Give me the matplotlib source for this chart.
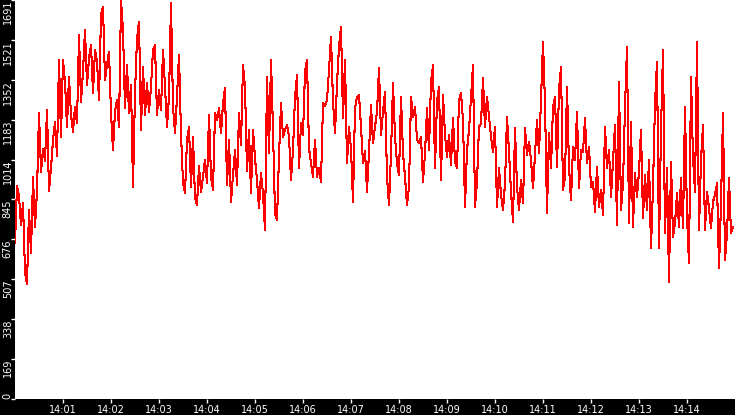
import numpy as np
import pandas as pd
import matplotlib
matplotlib.use("Agg")
import matplotlib.pyplot as plt

# Samples, one every 2.5 s starting at 14:00:00
start_time = "2000-01-01 14:00:00"
end_time = "2000-01-01 14:15:00"
sample_step = "2500ms"

values = [
    660, 903, 860, 737, 830, 538, 487, 801, 620, 941,
    729, 880, 1212, 962, 1060, 1010, 1225, 882, 979, 1098,
    1174, 1030, 1437, 1110, 1437, 1343, 1153, 1365, 1204, 1132,
    1238, 1168, 1543, 1259, 1387, 1564, 1331, 1443, 1500, 1296,
    1479, 1430, 1267, 1627, 1662, 1352, 1415, 1472, 1212, 1055,
    1218, 1267, 1153, 1691, 1560, 1233, 1415, 1212, 1330, 899,
    1296, 1528, 1599, 1140, 1408, 1204, 1338, 1218, 1324, 1479,
    1500, 1204, 1310, 1225, 1479, 1324, 1153, 1281, 1677, 1239,
    1126, 1281, 1458, 1126, 916, 873, 1098, 1153, 900, 1112,
    852, 822, 986, 879, 942, 1013, 914, 1204, 942, 886,
    1211, 1182, 1232, 1126, 1253, 1317, 907, 1098, 836, 949,
    1055, 907, 1211, 1077, 1415, 1324, 964, 1140, 872, 1140,
    1020, 928, 808, 956, 870, 716, 1366, 1041, 1437, 1140,
    787, 759, 1027, 1253, 1112, 1140, 1160, 1112, 928, 1055,
    1281, 1373, 978, 1168, 1119, 1387, 1437, 1062, 999, 942,
    1098, 942, 978, 921, 1253, 1240, 1267, 1394, 1536, 1260,
    1126, 1338, 1493, 1578, 1189, 1437, 999, 1154, 1060, 836,
    1232, 1281, 1288, 1154, 999, 1050, 879, 1048, 1246, 1084,
    1154, 1218, 1401, 1119, 1218, 1303, 942, 822, 1041, 1338,
    1112, 999, 949, 1281, 1041, 942, 822, 900, 1281, 1196,
    1239, 1098, 1084, 1112, 921, 1041, 1232, 1055, 1345, 1415,
    978, 1260, 1324, 928, 1288, 1119, 1027, 1119, 992, 1189,
    1006, 978, 1267, 1295, 1182, 815, 1055, 1140, 1281, 1415,
    815, 921, 1154, 1168, 1359, 1154, 1281, 1196, 1112, 1048,
    1154, 815, 978, 865, 801, 914, 1196, 1048, 879, 752,
    1147, 900, 801, 928, 829, 1147, 1034, 1091, 1013, 893,
    1041, 1182, 1041, 1267, 1514, 1253, 787, 1126, 978, 1239,
    1281, 985, 1310, 1408, 886, 942, 1324, 985, 843, 1069,
    1013, 1218, 893, 1055, 1048, 1189, 999, 1069, 900, 921,
    794, 985, 815, 886, 780, 1154, 978, 1055, 857, 1013,
    1161, 737, 1345, 801, 914, 1239, 1493, 744, 1175, 730,
    956, 857, 964, 1140, 766, 949, 801, 1013, 638, 900,
    1253, 1430, 638, 1140, 1479, 702, 978, 497, 1006, 688,
    745, 872, 730, 935, 723, 1239, 773, 575, 1366, 1020,
    879, 1514, 716, 1013, 1161, 716, 879, 808, 723, 836,
    865, 914, 554, 829, 1211, 589, 702, 935, 702, 730,
]

y_max = 1691
y_tick_count = 11
x_tick_labels = ["14:01", "14:02", "14:03", "14:04", "14:05", "14:06", "14:07",
                 "14:08", "14:09", "14:10", "14:11", "14:12", "14:13", "14:14"]

times = pd.date_range(start_time, periods=len(values), freq=sample_step)
x_ticks = pd.to_datetime(["2000-01-01 " + t for t in x_tick_labels])

# Figure: black frame, white plotting area
fig = plt.figure(figsize=(7.35, 4.15), dpi=100, facecolor="black")
ax = fig.add_axes([15 / 735, 16 / 415, 720 / 735, 399 / 415])
ax.set_facecolor("white")

# thin 1px red trace, no smoothing
ax.plot(times, values, color="#ff0000", linewidth=0.75, antialiased=False)

ax.set_xlim(pd.Timestamp(start_time), pd.Timestamp(end_time))
ax.set_ylim(0, y_max)

# y axis: rotated labels, truncated to integers
y_ticks = np.linspace(0, y_max, y_tick_count)
ax.set_yticks(y_ticks)
ax.set_yticklabels([str(int(v)) for v in y_ticks], rotation=90,
                   rotation_mode="anchor", ha="right", va="baseline")
ax.get_yticklabels()[0].set_ha("left")

ax.set_xticks(x_ticks)
ax.set_xticklabels(x_tick_labels)

ax.tick_params(axis="both", colors="white", labelcolor="white", labelsize=7,
               length=3, width=1, direction="out")
ax.tick_params(axis="x", pad=1.5)
ax.tick_params(axis="y", pad=0)

for spine in ax.spines.values():
    spine.set_visible(False)

fig.savefig("out.png", dpi=100, facecolor="black")
